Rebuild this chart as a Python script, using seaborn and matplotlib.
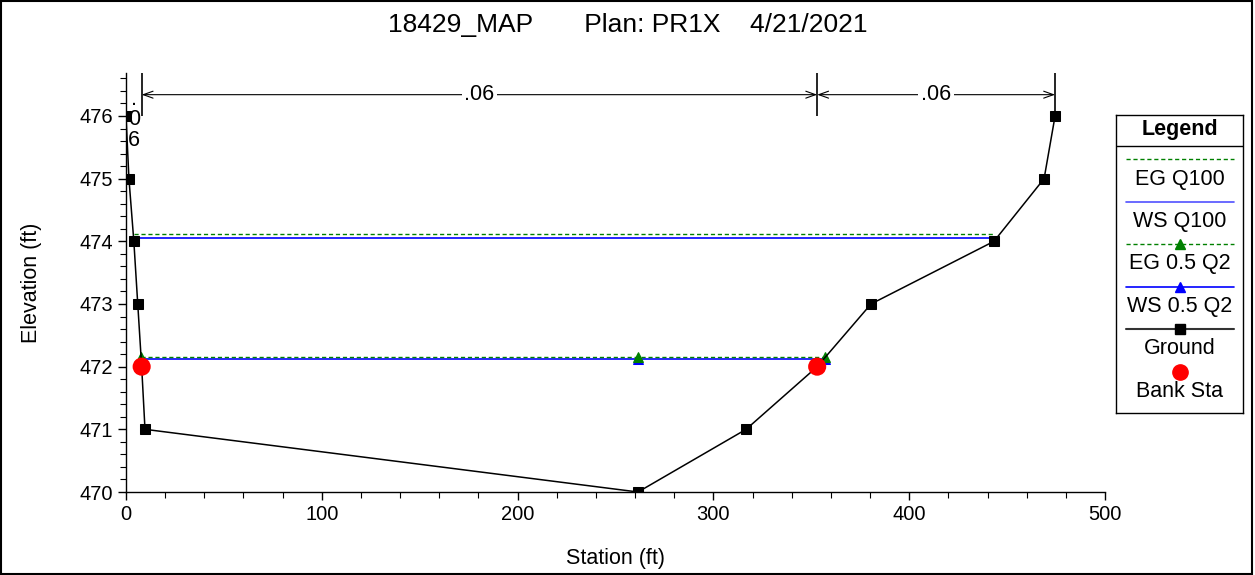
import matplotlib
matplotlib.use("Agg")
import matplotlib.pyplot as plt
from matplotlib.patches import Rectangle
from matplotlib.ticker import MultipleLocator
import pandas as pd
import seaborn as sns

# ground profile (station ft, elevation ft); bank stations included as vertices
ground_sta = [0, 1.5, 4, 6, 8, 9.7, 261.5, 316.7, 353, 380.5, 443.3, 468.9, 474.5]
ground_elev = [476, 475, 474, 473, 472, 471, 470, 471, 472, 473, 474, 475, 476]

bank_sta = [8, 353]
bank_elev = [472, 472]

q100_sta = [3.9, 443.9]
eg_q100 = [474.12, 474.12]
ws_q100 = [474.06, 474.06]

q2_sta = [7.8, 261.5, 356.8]
eg_q2 = [472.15, 472.15, 472.15]
ws_q2 = [472.13, 472.13, 472.13]

n_breaks = [8, 353, 474.5]
n_values = [".06", ".06"]
left_n = ".06"

title = "18429_MAP       Plan: PR1X    4/21/2021"

sns.set_style("ticks")
plt.rcParams["font.family"] = ["Liberation Sans", "DejaVu Sans"]
plt.rcParams.update({"text.color": "black", "axes.labelcolor": "black",
                     "xtick.color": "black", "ytick.color": "black"})

FS = 14.5
LFS = 15.5

fig = plt.figure(figsize=(12.55, 5.75), dpi=100)
ax = fig.add_axes([126 / 1255, 1 - 492 / 575, (1105 - 126) / 1255, (492 - 73) / 575])

ground = pd.DataFrame({"sta": ground_sta, "elev": ground_elev})
sns.lineplot(data=ground, x="sta", y="elev", sort=False, color="black", lw=1.1,
             marker="s", markersize=7, markeredgecolor="black", ax=ax, zorder=3)

sns.lineplot(x=q100_sta, y=ws_q100, color="blue", lw=1.2, ax=ax, zorder=2)
sns.lineplot(x=q100_sta, y=eg_q100, color="green", lw=1, linestyle=(0, (3, 2)), ax=ax, zorder=2)
sns.lineplot(x=q2_sta, y=ws_q2, color="blue", lw=1.2, marker="^", markersize=7,
             markeredgecolor="blue", ax=ax, zorder=2)
sns.lineplot(x=q2_sta, y=eg_q2, color="green", lw=1, linestyle=(0, (3, 2)), marker="^",
             markersize=7, markeredgecolor="green", ax=ax, zorder=2)
sns.scatterplot(x=bank_sta, y=bank_elev, color="red", s=170, edgecolor="none", ax=ax, zorder=4)

ax.set_xlim(0, 500)
ax.set_ylim(470, 470 + 419 / 62.67)
ax.xaxis.set_major_locator(MultipleLocator(100))
ax.xaxis.set_minor_locator(MultipleLocator(20))
ax.yaxis.set_major_locator(MultipleLocator(1))
ax.yaxis.set_minor_locator(MultipleLocator(0.2))
ax.set_yticks(range(470, 477))
ax.tick_params(which="major", length=6, width=1, labelsize=FS, color="black")
ax.tick_params(which="minor", length=4, width=0.8, color="black")
for s in ["top", "right"]:
    ax.spines[s].set_visible(False)
for s in ["left", "bottom"]:
    ax.spines[s].set_color("black")
    ax.spines[s].set_linewidth(1)
ax.set_xlabel("Station (ft)", fontsize=LFS, labelpad=17)
ax.set_ylabel("Elevation (ft)", fontsize=LFS, labelpad=27)
fig.text(628 / 1255, 1 - 25 / 575, title, ha="center", va="center", fontsize=19)

# Manning's n boundaries and dimension lines
top = ax.get_ylim()[1]
arrow_y = 476.34
ax.vlines(n_breaks, 476.0, top, color="black", lw=1.2, clip_on=False)
for i, nv in enumerate(n_values):
    a, b = n_breaks[i], n_breaks[i + 1]
    ax.annotate("", xy=(a, arrow_y), xytext=(b, arrow_y),
                arrowprops=dict(arrowstyle="<->,head_length=0.7,head_width=0.25",
                                color="black", lw=0.8, shrinkA=0, shrinkB=0),
                annotation_clip=False)
    ax.text((a + b) / 2, arrow_y, nv, ha="center", va="center", fontsize=LFS,
            bbox=dict(facecolor="white", edgecolor="none", pad=2))
# the narrow left overbank gets its n value wrapped one character per line
for ch, yb in zip(left_n, [476.18, 475.85, 475.52]):
    ax.text(4.1, yb, ch, ha="center", va="baseline", fontsize=LFS, zorder=5)

# legend panel
lg = fig.add_axes([1116 / 1255, 1 - 413 / 575, 127 / 1255, 298 / 575])
lg.set_xlim(1116, 1243)
lg.set_ylim(413, 115)
lg.set_xticks([])
lg.set_yticks([])
for s in lg.spines.values():
    s.set_color("black")
    s.set_linewidth(1)
lg.text(1179.5, 129, "Legend", ha="center", va="center", fontsize=LFS, fontweight="bold")
lg.axhline(146, color="black", lw=1)
entries = [
    ("EG Q100", dict(color="green", lw=1, linestyle=(0, (3, 2))), None),
    ("WS Q100", dict(color="#5050ff", lw=1.2), None),
    ("EG 0.5 Q2", dict(color="green", lw=1, linestyle=(0, (3, 2))), dict(marker="^", color="green")),
    ("WS 0.5 Q2", dict(color="blue", lw=1.2), dict(marker="^", color="blue")),
    ("Ground", dict(color="#333333", lw=1.5), dict(marker="s", color="black")),
    ("Bank Sta", None, dict(marker="o", color="red", ms=11)),
]
for i, (label, line_kw, mk_kw) in enumerate(entries):
    ly = 159 + i * 42.5
    if line_kw:
        lg.plot([1126, 1234], [ly, ly], **line_kw)
    if mk_kw:
        ms = mk_kw.pop("ms", 7)
        lg.plot([1180], [ly], linestyle="none", markersize=ms, markeredgecolor=mk_kw["color"], **mk_kw)
    lg.text(1179.5, ly + 20, label, ha="center", va="center", fontsize=LFS)

fig.patches.append(Rectangle((0.001, 0.001), 0.997, 0.997, transform=fig.transFigure,
                             fill=False, edgecolor="black", lw=1.5))

fig.savefig("out.png", dpi=100)
